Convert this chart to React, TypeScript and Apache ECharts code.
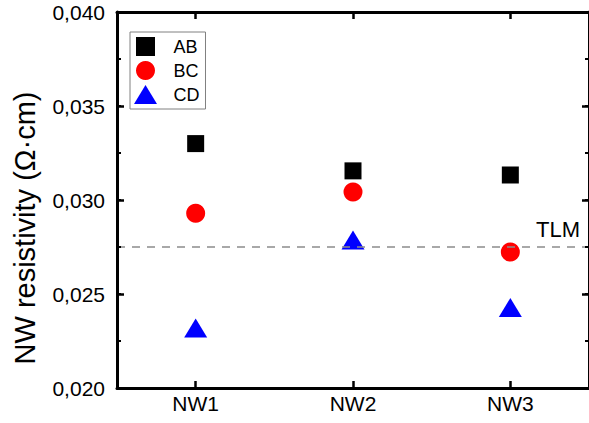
import React, { useEffect, useRef } from 'react';
import * as echarts from 'echarts';

const categories = ['NW1', 'NW2', 'NW3'];
const abValues = [0.0330, 0.03155, 0.03133];
const bcValues = [0.02929, 0.03043, 0.02723];
const cdValues = [0.02319, 0.02787, 0.02428];
const tlmValue = 0.02752;
const yMin = 0.02;
const yMax = 0.04;
const yInterval = 0.005;
const yMinorInterval = 0.0025;

const FONT = 'Arial, Liberation Sans, sans-serif';

function makeYAxis(position: string, withLabels: boolean) {
  return {
    type: 'value',
    position,
    z: 10,
    min: yMin,
    max: yMax,
    interval: yInterval,
    axisLine: { show: true, lineStyle: { color: '#000000', width: 3 } },
    axisTick: { show: true, inside: true, length: 7, lineStyle: { color: '#000000', width: 2.5 } },
    splitLine: { show: false },
    axisLabel: withLabels
      ? {
          show: true,
          fontSize: 21,
          color: '#000',
          margin: 12,
          fontFamily: FONT,
          formatter: (v: number) => v.toFixed(3).replace('.', ','),
        }
      : { show: false },
  };
}

function makeMinorYAxis(position: string) {
  return {
    type: 'value',
    position,
    z: 10,
    min: yMin,
    max: yMax,
    interval: yMinorInterval,
    axisLine: { show: false },
    axisTick: { show: true, inside: true, length: 4, lineStyle: { color: '#000000', width: 2 } },
    splitLine: { show: false },
    axisLabel: { show: false },
  };
}

function makeXAxis(position: string, withLabels: boolean) {
  return {
    type: 'category',
    position,
    z: 10,
    data: categories,
    boundaryGap: true,
    axisLine: { show: true, lineStyle: { color: '#000000', width: 3 } },
    axisTick: {
      show: true,
      inside: true,
      alignWithLabel: true,
      length: 7,
      lineStyle: { color: '#000000', width: 2.5 },
    },
    splitLine: { show: false },
    axisLabel: withLabels
      ? { show: true, fontSize: 21, color: '#000', margin: 5, fontFamily: FONT }
      : { show: false },
  };
}

export default function App() {
  const ref = useRef<HTMLDivElement>(null);
  useEffect(() => {
    if (!ref.current) return;
    const chart = echarts.init(ref.current, undefined, { renderer: 'svg' });
    const leftY: any = makeYAxis('left', true);
    leftY.name = 'NW resistivity (Ω·cm)';
    leftY.nameLocation = 'middle';
    leftY.nameGap = 78;
    leftY.nameRotate = 90;
    leftY.nameTextStyle = { fontSize: 29, color: '#000', fontFamily: FONT, padding: [0, 56, 0, 0] };
    chart.setOption({
      animation: false,
      grid: { left: 117, top: 12, width: 474, height: 376 },
      legend: {
        left: 130,
        top: 32,
        orient: 'vertical',
        itemWidth: 46,
        itemHeight: 19,
        itemGap: 5,
        padding: [5, 6, 5, 4],
        borderColor: '#808080',
        borderWidth: 1,
        borderRadius: 0,
        textStyle: { fontSize: 18, color: '#000', fontFamily: FONT },
        data: [
          { name: 'AB', icon: 'path://M0,0L17,0L17,17L0,17Z' },
          { name: 'BC', icon: 'circle' },
          { name: 'CD', icon: 'path://M11.5,0L23,19L0,19Z' },
        ],
      },
      xAxis: [makeXAxis('bottom', true), makeXAxis('top', false)],
      yAxis: [leftY, makeYAxis('right', false), makeMinorYAxis('left'), makeMinorYAxis('right')],
      series: [
        {
          name: 'AB',
          type: 'scatter',
          symbol: 'rect',
          symbolSize: 17,
          itemStyle: { color: '#000000', opacity: 1 },
          data: abValues,
        },
        {
          name: 'BC',
          type: 'scatter',
          symbol: 'circle',
          symbolSize: 19,
          itemStyle: { color: '#ff0000', opacity: 1 },
          data: bcValues,
          markLine: {
            silent: true,
            symbol: 'none',
            precision: 6,
            lineStyle: { color: '#8c8c8c', type: [8, 7], width: 1.5 },
            label: {
              show: true,
              position: 'insideEndTop',
              formatter: 'TLM',
              fontSize: 22,
              color: '#000',
              fontFamily: FONT,
              distance: [9, 6],
            },
            data: [{ yAxis: tlmValue }],
          },
        },
        {
          name: 'CD',
          type: 'scatter',
          symbol: 'triangle',
          symbolSize: [23, 19],
          itemStyle: { color: '#0000ff', opacity: 1 },
          data: cdValues,
        },
      ],
    });
    return () => chart.dispose();
  }, []);
  return (
    <div
      ref={ref}
      style={{ position: 'absolute', left: 0, top: 0, width: 589, height: 423, background: '#fff' }}
    />
  );
}
